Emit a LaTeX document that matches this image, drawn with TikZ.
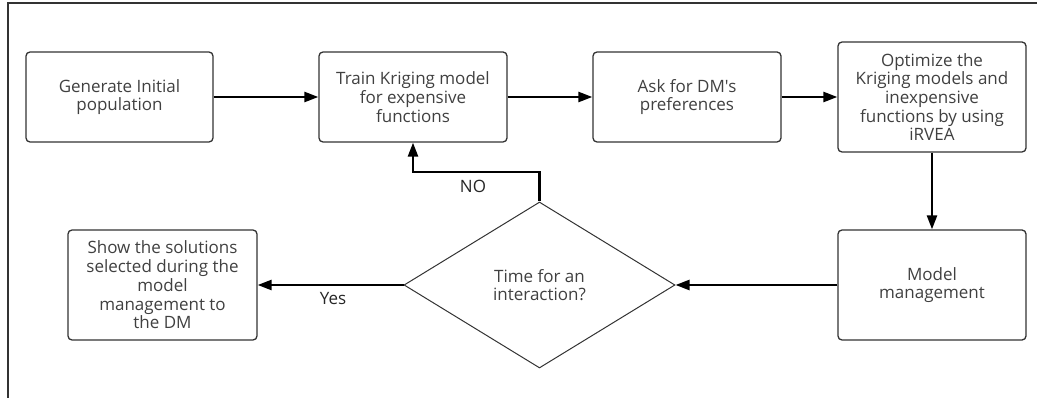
\documentclass[tikz,border=0pt]{standalone}
\usepackage{fontspec}
\setmainfont{Open Sans}[Ligatures=TeXOff]
\usetikzlibrary{arrows.meta,shapes.geometric}
\definecolor{txt}{HTML}{404040}
\definecolor{edge}{HTML}{333333}
\tikzset{
  box/.style={draw=edge, line width=1.3pt, rounded corners=4pt, align=center,
    text=txt, font=\fontsize{17}{18.7}\selectfont, inner sep=0pt},
  dec/.style={draw=edge, line width=1pt, diamond, inner sep=0pt,
    minimum width=271pt, minimum height=166pt, align=center, text=txt,
    font=\fontsize{17}{18.7}\selectfont},
  conn/.style={line width=2.5pt, -{Triangle[length=14pt,width=10pt]}},
  lbl/.style={text=black!85, font=\fontsize{17}{18}\selectfont, inner sep=0pt}
}
\begin{document}
\begin{tikzpicture}[x=1pt,y=-1pt]
\useasboundingbox (0,0) rectangle (1037,398);
\draw[edge, line width=1.2pt] (8,398) -- (8,3) -- (1037,3);
\node[box, minimum width=187pt, minimum height=90pt] (gen) at (119.5,97) {Generate Initial\\population};
\node[box, minimum width=188pt, minimum height=90pt] (train) at (413,97) {Train Kriging model\\for expensive\\functions};
\node[box, minimum width=188pt, minimum height=90pt] (ask) at (687,97) {Ask for DM's\\preferences};
\node[box, minimum width=188pt, minimum height=110pt] (opt) at (932,97) {Optimize the\\Kriging models and\\inexpensive\\functions by using\\iRVEA};
\node[box, minimum width=188pt, minimum height=110pt] (mm) at (932,285) {Model\\management};
\node[box, minimum width=189pt, minimum height=110pt] (show) at (162.5,285) {Show the solutions\\selected during the\\model\\management to\\the DM};
\node[dec] (dia) at (539.5,285) {Time for an\\interaction?};
\draw[conn] (gen.east) -- (train.west);
\draw[conn] (train.east) -- (ask.west);
\draw[conn] (ask.east) -- (ask.east -| opt.west);
\draw[conn] (opt.south) -- (mm.north);
\draw[conn] (mm.west) -- (dia.east);
\draw[conn] (dia.west) -- (show.east);
\draw[conn] (dia.north) |- (413,172) -- (train.south);
\node[lbl] (no) at (473,186) {NO};
\node[lbl] (yes) at (333,299) {Yes};
\end{tikzpicture}
\end{document}
